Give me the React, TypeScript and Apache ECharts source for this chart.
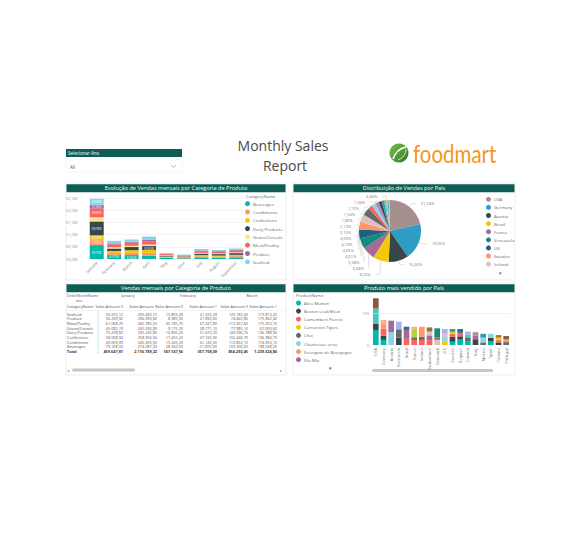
import React, { useEffect, useRef } from 'react';
import * as echarts from 'echarts';

const FONT = '"Segoe UI", "Open Sans", "Noto Sans", sans-serif';
const TEAL_BAR = '#0e5d55';

// ---------- Panel 1: monthly sales by category (values in millions) ----------
const months = ['January', 'February', 'March', 'April', 'May', 'June', 'July', 'August', 'September'];
const categories = ['Beverages', 'Condiments', 'Confections', 'Dairy Products', 'Grains/Cereals', 'Meat/Poultry', 'Produce', 'Seafood'];
const catColors = ['#01B8AA', '#FE9666', '#F2C80F', '#374649', '#FFE38F', '#FD625E', '#A66999', '#8AD4EB'];
const beverages = [0.57, 0.17, 0.16, 0.13, 0.04, 0.03, 0.07, 0.06, 0.07];
const condiments = [0.2, 0.08, 0.09, 0.12, 0.03, 0.02, 0.04, 0.04, 0.05];
const confections = [0.2, 0.08, 0.11, 0.12, 0.03, 0.02, 0.05, 0.04, 0.05];
const dairy = [0.57, 0.1, 0.13, 0.16, 0.04, 0.03, 0.06, 0.06, 0.07];
const grains = [0.17, 0.05, 0.05, 0.06, 0.02, 0.01, 0.03, 0.03, 0.03];
const meat = [0.36, 0.12, 0.13, 0.14, 0.04, 0.03, 0.07, 0.06, 0.07];
const produce = [0.15, 0.04, 0.04, 0.05, 0.02, 0.015, 0.03, 0.03, 0.03];
const seafood = [0.25, 0.105, 0.09, 0.14, 0.03, 0.025, 0.06, 0.05, 0.06];
const catValues = [beverages, condiments, confections, dairy, grains, meat, produce, seafood];
const salesTicks = [0, 0.5, 1, 1.5, 2, 2.5];

// ---------- Panel 2: sales share by country ----------
const countries = ['USA', 'Germany', 'Austria', 'Brazil', 'France', 'Venezuela', 'UK', 'Sweden', 'Ireland', 'Canada',
  'Belgium', 'Denmark', 'Switzerland', 'Mexico', 'Finland', 'Spain', 'Italy', 'Portugal', 'Argentina', 'Norway', 'Poland'];
const countryShare = [21.46, 19.16, 10.32, 8.28, 6.72, 5.61, 4.64, 4.07, 4.15, 4.05, 2.16, 2.13, 1.9, 1.55, 1.2, 1.05,
  0.85, 0.55, 0.35, 0.25, 0.12];
const pieColors = ['#A78F8F', '#2E9CC3', '#374649', '#F2C80F', '#A66999', '#168980', '#1F5F80', '#FE9666', '#DFBFBF',
  '#5F6B6D', '#FD625E', '#8AD4EB', '#B687AC', '#374649', '#3599B8', '#4AC5BB', '#FDAB89', '#01B8AA', '#F4D25A', '#7F898A', '#A4DDEE'];
const pieLegendCount = 9;

// ---------- Panel 3: table ----------
const tableRows = ['Seafood', 'Produce', 'Meat/Poultry', 'Grains/Cereals', 'Dairy Products', 'Confections', 'Condiments', 'Beverages'];
const tableMonths = ['January', 'February', 'March'];
const janSales0 = [50472.12, 56299.92, 61068.7, 45082.19, 75478.82, 58068.94, 40009.09, 73168.03];
const janSales1 = [235493.72, 296993.6, 265785.03, 245036.8, 295235.8, 258356.94, 245300.0, 274587.33];
const febSales0 = [15855.49, 8985.0, 35185.75, 9175.2, 16895.2, 17455.22, 15245.2, 28350.5];
const febSales1 = [41332.49, 27890.6, 67327.8, 28771.1, 51670.2, 47745.9, 41145.0, 51875.0];
const marSales0 = [129182.4, 74665.8, 112357.6, 77985.1, 143596.75, 102446.7, 110852.1, 103206.0];
const marSales1 = [173813.2, 175962.4, 175253.7, 67000.6, 136788.9, 136984.7, 174953.1, 198568.2];
const tableColumns = [janSales0, janSales1, febSales0, febSales1, marSales0, marSales1];

// ---------- Panel 4: best-selling products by country ----------
const prodCountries = ['USA', 'Germany', 'Austria', 'Venezuela', 'Brazil', 'France', 'Ireland', 'Switzerland', 'Denmark',
  'UK', 'Sweden', 'Belgium', 'Canada', 'Italy', 'Mexico', 'Spain', 'Finland', 'Portugal'];
const products = ['Alice Mutton', 'Boston Crab Meat', 'Camembert Pierrot', 'Carnarvon Tigers', 'Chai', 'Chartreuse verte',
  'Escargots de Bourgogne', 'Filo Mix', 'Gnocchi di nonna Alice', 'Ikura', 'Manjimup Dried Apples', 'Côte de Blaye',
  'Perth Pasties', 'Raclette Courdavault', 'Rössle Sauerkraut', "Sir Rodney's Marmalade", 'Tarte au sucre',
  'Thüringer Rostbratwurst', 'Queso Manchego La Pastora'];
const prodColors = ['#01B8AA', '#374649', '#FD625E', '#F2C80F', '#5F6B6D', '#8AD4EB', '#FE9666', '#A66999', '#3599B8',
  '#DFBFBF', '#4AC5BB', '#8C5A3C', '#B5D334', '#A4B4EE', '#FDAB89', '#28738A', '#8E7A3A', '#168980', '#A78F8F'];
const aliceMutton = [47, 16, 0, 0, 0, 0, 0, 0, 0, 0, 10, 17, 12, 0, 0, 12, 0, 0];
const bostonCrab = [20, 13, 0, 23, 0, 0, 0, 0, 0, 0, 16, 10, 0, 18, 0, 10, 8, 0];
const camembert = [0, 22, 0, 0, 19, 16, 16, 15, 0, 0, 8, 11, 0, 0, 0, 0, 7, 0];
const carnarvon = [0, 0, 0, 0, 0, 0, 0, 0, 0, 10, 7, 0, 0, 0, 0, 0, 8, 0];
const chai = [0, 0, 0, 26, 0, 8, 10, 0, 0, 0, 0, 0, 10, 0, 8, 0, 0, 9];
const chartreuse = [0, 0, 40, 0, 0, 0, 0, 0, 0, 12, 0, 0, 0, 0, 15, 13, 0, 0];
const escargots = [0, 14, 0, 0, 0, 0, 31, 0, 0, 0, 0, 0, 0, 0, 0, 0, 0, 9];
const filoMix = [0, 0, 36, 0, 28, 0, 0, 15, 0, 0, 0, 0, 0, 12, 0, 0, 0, 0];
const gnocchi = [0, 0, 0, 0, 0, 0, 0, 0, 0, 0, 9, 0, 0, 0, 12, 0, 0, 0];
const ikura = [0, 0, 0, 0, 0, 0, 0, 12, 16, 13, 0, 0, 0, 0, 0, 0, 0, 0];
const manjimup = [47, 0, 0, 0, 0, 0, 0, 0, 0, 0, 0, 0, 10, 0, 0, 0, 0, 0];
const coteDeBlaye = [32, 0, 0, 0, 0, 0, 0, 0, 0, 0, 0, 0, 0, 0, 0, 0, 0, 10];
const perthPasties = [0, 0, 0, 0, 0, 25, 0, 0, 0, 0, 0, 0, 0, 0, 0, 0, 0, 0];
const raclette = [0, 0, 0, 24, 0, 0, 0, 0, 0, 15, 0, 0, 10, 0, 0, 0, 0, 0];
const rossle = [0, 13, 0, 0, 0, 8, 0, 0, 0, 0, 0, 0, 0, 0, 0, 0, 0, 0];
const sirRodney = [0, 0, 0, 0, 10, 0, 0, 0, 0, 0, 0, 12, 0, 0, 0, 0, 0, 0];
const tarte = [0, 0, 0, 0, 0, 0, 0, 13, 8, 0, 0, 0, 0, 0, 0, 0, 8, 0];
const thuringer = [0, 0, 0, 0, 0, 0, 0, 0, 28, 0, 0, 0, 0, 0, 0, 0, 0, 0];
const queso = [0, 0, 0, 0, 0, 0, 0, 0, 0, 0, 0, 0, 0, 10, 0, 0, 0, 0];
const prodValues = [aliceMutton, bostonCrab, camembert, carnarvon, chai, chartreuse, escargots, filoMix, gnocchi, ikura,
  manjimup, coteDeBlaye, perthPasties, raclette, rossle, sirRodney, tarte, thuringer, queso];
const prodLegendCount = 8;

// ---------- helpers ----------
const fmtBR = (v: number) => {
  const [i, d] = v.toFixed(2).split('.');
  return i.replace(/\B(?=(\d{3})+(?!\d))/g, '.') + ',' + d;
};
const txt = (x: number, y: number, text: string, o: any = {}) => ({
  type: 'text', x, y, silent: true,
  style: { text, fontSize: 3.8, fill: '#555', fontFamily: FONT, align: 'left', verticalAlign: 'middle', ...o },
});

function buildGraphics() {
  const g: any[] = [];
  // slicer
  g.push({ type: 'rect', shape: { x: 66, y: 149, width: 116, height: 8 }, style: { fill: TEAL_BAR } });
  g.push(txt(68, 153, 'Selecionar Ano', { fill: '#fff', fontSize: 4.5 }));
  g.push({ type: 'rect', shape: { x: 66, y: 160, width: 116, height: 12 }, style: { fill: '#fff', stroke: '#eeeeee', lineWidth: 0.5 } });
  g.push(txt(70, 166.5, 'All', { fontSize: 4.5, fill: '#555' }));
  g.push({ type: 'polyline', shape: { points: [[171, 165], [173.5, 167.5], [176, 165]] }, style: { stroke: '#888', lineWidth: 0.6, fill: null } });
  // report title
  g.push(txt(283, 145, 'Monthly Sales', { fontSize: 14, fill: '#4a4a4a', align: 'center' }));
  g.push(txt(285, 165.5, 'Report', { fontSize: 14, fill: '#4a4a4a', align: 'center' }));
  // logo
  g.push({
    type: 'circle', shape: { cx: 399, cy: 153, r: 9.5 },
    style: { fill: new echarts.graphic.LinearGradient(0, 0, 1, 1, [{ offset: 0, color: '#7cbf4a' }, { offset: 1, color: '#2d7a26' }]) },
  });
  g.push({ type: 'bezierCurve', shape: { x1: 393, y1: 159, cpx1: 396, cpy1: 150, cpx2: 401, cpy2: 148, x2: 406, y2: 147 }, style: { stroke: '#fff', lineWidth: 1.6, fill: null } });
  g.push({ type: 'bezierCurve', shape: { x1: 398, y1: 160, cpx1: 403, cpy1: 158, cpx2: 406, cpy2: 154, x2: 406, y2: 149 }, style: { stroke: '#e8f5dc', lineWidth: 0.9, fill: null } });
  g.push({ type: 'text', x: 413, y: 153.5, scaleX: 0.82, silent: true,
    style: { text: 'foodmart', fontSize: 25, fill: '#f5961f', fontFamily: 'Lato, "Open Sans", sans-serif', align: 'left', verticalAlign: 'middle' } });

  // panels
  const panels = [
    { x: 66, y: 183, w: 220, h: 97, title: 'Evolução de Vendas mensais por Categoria de Produto' },
    { x: 293, y: 183, w: 222, h: 97, title: 'Distribuição de Vendas por País' },
    { x: 66, y: 283, w: 220, h: 92, title: 'Vendas mensais por Categoria de Produto' },
    { x: 293, y: 283, w: 222, h: 92, title: 'Produto mais vendido por País' },
  ];
  panels.forEach((p) => {
    g.push({ type: 'rect', z: -1, shape: { x: p.x, y: p.y, width: p.w, height: p.h }, style: { fill: '#fff', stroke: '#e2e2e2', lineWidth: 0.6 } });
    g.push({ type: 'rect', shape: { x: p.x + 0.5, y: p.y + 1.2, width: p.w - 1, height: 8 }, style: { fill: TEAL_BAR } });
    g.push(txt(p.x + p.w / 2, p.y + 5.3, p.title, { fill: '#fff', fontSize: 5.6, align: 'center' }));
  });

  // legend titles
  g.push(txt(246, 196.5, 'CategoryName', { fontSize: 4.2, fill: '#666' }));
  g.push(txt(296, 295.5, 'ProductName', { fontSize: 4.2, fill: '#666' }));
  g.push(txt(500, 273, '▾', { fontSize: 5, fill: '#666', align: 'center' }));
  g.push(txt(330, 368, '▾', { fontSize: 5, fill: '#666', align: 'center' }));

  // table
  const colRight = [123, 157, 183, 217, 248, 277];
  const groupCenter = [128, 188, 252];
  g.push(txt(67, 295, 'OrderMonthName', { fontSize: 3.6 }));
  g.push(txt(76, 300, 'ano', { fontSize: 3.6 }));
  g.push(txt(67, 306.7, 'CategoryName', { fontSize: 3.8 }));
  tableMonths.forEach((m, i) => g.push(txt(groupCenter[i], 295, m, { fontSize: 3.8, align: 'center' })));
  colRight.forEach((x, i) => g.push(txt(x, 306.7, 'Sales Amount ' + (i % 2), { fontSize: 3.8, align: 'right' })));
  g.push({ type: 'line', shape: { x1: 66, y1: 310.5, x2: 286, y2: 310.5 }, style: { stroke: '#e4e4e4', lineWidth: 0.5 } });
  g.push({ type: 'line', shape: { x1: 98, y1: 311, x2: 98, y2: 354 }, style: { stroke: '#a8d8d0', lineWidth: 0.6 } });
  const rowY0 = 314.3, rowH = 4.67;
  tableRows.forEach((r, ri) => {
    const y = rowY0 + ri * rowH;
    g.push(txt(67, y, r, { fontSize: 3.8 }));
    tableColumns.forEach((col, ci) => g.push(txt(colRight[ci], y, fmtBR(col[ri]), { fontSize: 3.8, align: 'right' })));
  });
  const totY = rowY0 + tableRows.length * rowH;
  g.push(txt(67, totY, 'Total', { fontSize: 3.8, fontWeight: 'bold', fill: '#333' }));
  tableColumns.forEach((col, ci) => g.push(txt(colRight[ci], totY, fmtBR(col.reduce((a, b) => a + b, 0)), { fontSize: 3.8, align: 'right', fontWeight: 'bold', fill: '#333' })));
  // scrollbars
  g.push({ type: 'rect', shape: { x: 72, y: 368.5, width: 63, height: 3, r: 1.5 }, style: { fill: '#c6c6c6' } });
  g.push(txt(68, 370, '◂', { fontSize: 4, fill: '#888', align: 'center' }));
  g.push(txt(281, 370, '▸', { fontSize: 4, fill: '#888', align: 'center' }));
  g.push({ type: 'rect', shape: { x: 372, y: 369, width: 121, height: 3, r: 1.5 }, style: { fill: '#c6c6c6' } });
  return g;
}

function buildOption(): any {
  const barSeries = categories.map((c, i) => ({
    name: c, type: 'bar', stack: 'month', xAxisIndex: 0, yAxisIndex: 0,
    data: catValues[i], barCategoryGap: '20%',
    itemStyle: { color: catColors[i] },
    label: {
      show: c !== 'Grains/Cereals', position: 'inside', fontSize: 3.4, color: '#fff', fontFamily: FONT,
      formatter: (p: any) => (p.value >= 0.15 ? '$' + Math.round(p.value * 1000) + 'K' : ''),
    },
  }));
  const prodSeries = products.map((pn, i) => ({
    name: pn, type: 'bar', stack: 'prod', xAxisIndex: 1, yAxisIndex: 1,
    data: prodValues[i], barCategoryGap: '26%',
    itemStyle: { color: prodColors[i] },
    ...(i === 0 ? {
      markLine: {
        silent: true, symbol: ['none', 'none'], label: { show: false },
        lineStyle: { color: '#e6e6e6', type: 'solid', width: 0.6 }, data: [{ yAxis: 100 }],
      },
    } : {}),
  }));
  const legendBase = {
    orient: 'vertical', itemWidth: 5, itemHeight: 5, itemGap: 3.1, padding: 0,
    icon: 'circle', selectedMode: false,
    textStyle: { fontSize: 4.3, color: '#666', fontFamily: FONT, padding: [0, 0, 0, -2] },
  };
  return {
    animation: false,
    backgroundColor: '#ffffff',
    textStyle: { fontFamily: FONT },
    grid: [
      { left: 88, top: 198, width: 157, height: 61 },
      { left: 372, top: 297, width: 138, height: 48 },
    ],
    xAxis: [
      {
        gridIndex: 0, type: 'category', data: months,
        axisLine: { show: false }, axisTick: { show: false },
        axisLabel: { rotate: 45, fontSize: 4, color: '#777', interval: 0, margin: 3, fontFamily: FONT },
      },
      {
        gridIndex: 1, type: 'category', data: prodCountries,
        axisLine: { show: false }, axisTick: { show: false },
        axisLabel: { rotate: 90, fontSize: 4, color: '#777', interval: 0, margin: 3, fontFamily: FONT },
      },
    ],
    yAxis: [
      {
        gridIndex: 0, type: 'value', min: salesTicks[0], max: salesTicks[salesTicks.length - 1], interval: 0.5,
        axisLine: { show: false }, axisTick: { show: false },
        splitLine: { lineStyle: { color: '#ececec', width: 0.6 } },
        axisLabel: {
          fontSize: 4, color: '#999', align: 'left', margin: 22, fontFamily: FONT,
          formatter: (v: number) => '$' + v.toFixed(1).replace('.', ',') + 'M',
        },
      },
      {
        gridIndex: 1, type: 'value', min: 0, max: 150, interval: 100,
        axisLine: { show: false }, axisTick: { show: false }, splitLine: { show: false },
        axisLabel: {
          fontSize: 4, color: '#999', margin: 3, fontFamily: FONT,
          formatter: (v: number) => (v % 100 === 0 ? String(v) : ''),
        },
      },
    ],
    legend: [
      { ...legendBase, data: categories, left: 245, top: 201.2, itemGap: 3.3 },
      { ...legendBase, data: countries.slice(0, pieLegendCount), left: 486, top: 196.8 },
      { ...legendBase, data: products.slice(0, prodLegendCount), left: 296, top: 300.5 },
    ],
    series: [
      ...barSeries,
      {
        name: 'País', type: 'pie', center: [390, 231], radius: [0, 31], startAngle: 90, clockwise: true,
        avoidLabelOverlap: true, minShowLabelAngle: 2.5,
        data: countries.map((n, i) => ({ name: n, value: countryShare[i], itemStyle: { color: pieColors[i] } })),
        label: {
          fontSize: 4, color: '#777', fontFamily: FONT,
          formatter: (p: any) => p.percent.toFixed(2).replace('.', ',') + '%',
        },
        labelLine: { length: 4, length2: 4, lineStyle: { width: 0.4, color: '#b0b0b0' } },
      },
      ...prodSeries,
    ],
    graphic: buildGraphics(),
  };
}

export default function App() {
  const ref = useRef<HTMLDivElement>(null);
  useEffect(() => {
    const chart = echarts.init(ref.current!, undefined, { renderer: 'svg' });
    chart.setOption(buildOption());
    return () => chart.dispose();
  }, []);
  return (
    <div
      ref={ref}
      style={{ position: 'fixed', left: 0, top: 0, width: 583, height: 538, background: '#fff' }}
    />
  );
}
